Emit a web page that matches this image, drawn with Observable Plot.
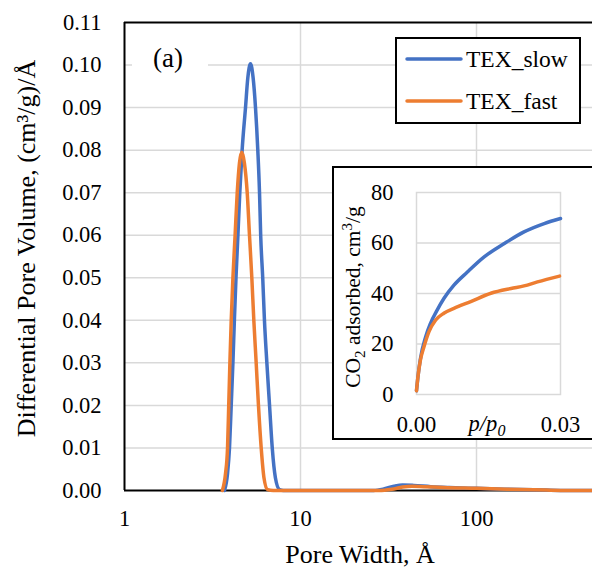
<!DOCTYPE html>
<html>
<head>
<meta charset="utf-8">
<script src="https://cdn.jsdelivr.net/npm/d3@7"></script>
<script src="https://cdn.jsdelivr.net/npm/@observablehq/plot@0.6"></script>
<style>
  html, body { margin: 0; padding: 0; background: #fff; }
  body { width: 592px; height: 570px; overflow: hidden; position: relative;
         font-family: "Liberation Serif", "Times New Roman", serif; }
  #main { position: absolute; left: 0; top: 0; }
  #inset { position: absolute; left: 332px; top: 166px; width: 320px; height: 274px;
           box-sizing: border-box; border: 2px solid #000; background: #fff; }
  #inset svg { position: absolute; left: 0; top: 0; }
  svg text { font-family: "Liberation Serif", "Times New Roman", serif; }
</style>
</head>
<body>
<div id="main"></div>
<div id="inset"></div>
<script>
// Series
const seriesNames = ["TEX_slow", "TEX_fast"];
const seriesColors = ["#4472C4", "#ED7D31"];

// Pore size distribution: pore width (Å) and differential pore volume ((cm3/g)/Å)
const slowWidth = [3.70, 3.85, 3.95, 4.04, 4.13, 4.21, 4.30, 4.41, 4.52, 4.66, 4.87, 5.02, 5.20, 5.38, 5.55, 5.72, 5.85, 5.94, 6.10, 6.24, 6.44, 6.67, 6.91, 7.20, 7.60, 8.00, 12, 20, 26, 30, 34, 38, 44, 55, 70, 100, 150, 250, 400, 1000];
const slowVolume = [0, 0.004, 0.010, 0.020, 0.030, 0.040, 0.050, 0.060, 0.070, 0.080, 0.090, 0.097, 0.1003, 0.097, 0.090, 0.080, 0.070, 0.060, 0.050, 0.040, 0.030, 0.020, 0.010, 0.003, 0.0002, 0, 0, 0, 0, 0.0004, 0.0010, 0.0013, 0.0012, 0.0009, 0.0007, 0.0005, 0.0003, 0.0001, 0, 0];
const fastWidth = [3.60, 3.75, 3.85, 3.91, 3.97, 4.04, 4.13, 4.25, 4.37, 4.50, 4.64, 4.80, 4.98, 5.13, 5.29, 5.43, 5.60, 5.77, 5.98, 6.20, 6.50, 7.00, 12, 20, 28, 33, 38, 43, 50, 65, 100, 150, 250, 400, 1000];
const fastVolume = [0, 0.004, 0.010, 0.020, 0.030, 0.040, 0.050, 0.060, 0.070, 0.077, 0.0795, 0.077, 0.070, 0.060, 0.050, 0.040, 0.030, 0.020, 0.010, 0.003, 0.0002, 0, 0, 0, 0, 0.0003, 0.0008, 0.0010, 0.0009, 0.0007, 0.0005, 0.0003, 0.0001, 0, 0];

// CO2 adsorption isotherm (inset): relative pressure p/p0 and uptake (cm3/g)
const slowP = [0, 0.0003, 0.0008, 0.0019, 0.0029, 0.0043, 0.0057, 0.0078, 0.0106, 0.0141, 0.0183, 0.0224, 0.0266, 0.0300];
const slowAds = [1.5, 7, 14, 22.8, 28.1, 33.4, 38, 43.3, 48.5, 54.5, 59.8, 64.4, 67.7, 69.7];
const fastP = [0, 0.0003, 0.0008, 0.0015, 0.0026, 0.0040, 0.0057, 0.0078, 0.0113, 0.0155, 0.0197, 0.0224, 0.0252, 0.0298];
const fastAds = [1.5, 7, 13.5, 18.5, 24.9, 29.5, 32.2, 34.1, 36.8, 40.1, 42, 43, 44.6, 46.9];

// Ticks
const xTicks = [1, 10, 100];
const xGrid = [10, 100, 1000];
const yTicks = [0, 0.01, 0.02, 0.03, 0.04, 0.05, 0.06, 0.07, 0.08, 0.09, 0.10, 0.11];
const insetXTicks = [0, 0.03];
const insetYTicks = [0, 20, 40, 60, 80];

const psd = [
  ...slowWidth.map((w, i) => ({series: seriesNames[0], w, v: slowVolume[i]})),
  ...fastWidth.map((w, i) => ({series: seriesNames[1], w, v: fastVolume[i]}))
];
const iso = [
  ...slowP.map((p, i) => ({series: seriesNames[0], p, a: slowAds[i]})),
  ...fastP.map((p, i) => ({series: seriesNames[1], p, a: fastAds[i]}))
];

const grid = "#d9d9d9";
const font = '"Liberation Serif", "Times New Roman", serif';

// Main chart
const main = Plot.plot({
  width: 652, height: 570,
  marginLeft: 124, marginRight: 0, marginTop: 22, marginBottom: 80,
  style: {fontFamily: font, fontSize: "22.5px", color: "#000", background: "transparent", maxWidth: "none", overflow: "visible"},
  x: {type: "log", domain: [1, 1000]},
  y: {domain: [0, 0.11]},
  color: {domain: seriesNames, range: seriesColors},
  marks: [
    Plot.gridY(yTicks.filter(t => t > 0 && t < 0.11), {stroke: grid, strokeOpacity: 1, strokeWidth: 1.5}),
    Plot.gridX(xGrid, {stroke: grid, strokeOpacity: 1, strokeWidth: 1.5}),
    Plot.axisX(xTicks, {tickSize: 0, tickPadding: 20, tickFormat: d => String(d), label: null, fontSize: 22.5, fontFamily: font}),
    Plot.axisY(yTicks, {tickSize: 0, tickPadding: 23, tickFormat: d => d.toFixed(2), label: null, fontSize: 22.5, fontFamily: font}),
    Plot.ruleY([0], {stroke: "#000", strokeWidth: 2}),
    Plot.ruleY([0.11], {stroke: "#000", strokeWidth: 2}),
    Plot.ruleX([1], {stroke: "#000", strokeWidth: 2}),
    Plot.line(psd, {x: "w", y: "v", stroke: "series", z: "series", strokeWidth: 3.5, curve: "monotone-x"})
  ]
});
main.style.maxWidth = "none";
document.getElementById("main").appendChild(main);

const ms = d3.select(main);
// axis titles
ms.append("text")
  .attr("transform", "translate(35,248.5) rotate(-90)")
  .attr("text-anchor", "middle")
  .attr("font-size", 26).attr("fill", "#000")
  .text("Differential Pore Volume, (cm³/g)/Å");
ms.append("text")
  .attr("x", 360).attr("y", 563)
  .attr("text-anchor", "middle")
  .attr("font-size", 26).attr("fill", "#000")
  .text("Pore Width, Å");

// panel tag
ms.append("rect").attr("x", 132).attr("y", 42).attr("width", 76).attr("height", 40).attr("fill", "#fff");
ms.append("text")
  .attr("x", 168).attr("y", 67)
  .attr("text-anchor", "middle")
  .attr("font-size", 27).attr("fill", "#000")
  .text("(a)");

// legend
const lg = ms.append("g");
lg.append("rect").attr("x", 396).attr("y", 38).attr("width", 184).attr("height", 85)
  .attr("fill", "#fff").attr("stroke", "#000").attr("stroke-width", 2);
seriesNames.forEach((name, i) => {
  const cy = 59 + i * 42;
  lg.append("line").attr("x1", 407).attr("x2", 461).attr("y1", cy).attr("y2", cy)
    .attr("stroke", seriesColors[i]).attr("stroke-width", 3.5).attr("stroke-linecap", "round");
  lg.append("text").attr("x", 466).attr("y", cy + 8)
    .attr("text-anchor", "start")
    .attr("font-size", 23.5).attr("fill", "#000")
    .text(name);
});

// Inset: CO2 isotherm
const inset = Plot.plot({
  width: 316, height: 270,
  marginLeft: 82, marginRight: 90, marginTop: 24, marginBottom: 44,
  style: {fontFamily: font, fontSize: "22.5px", color: "#000", background: "transparent", maxWidth: "none", overflow: "visible"},
  x: {domain: [0, 0.03]},
  y: {domain: [0, 80]},
  color: {domain: seriesNames, range: seriesColors},
  marks: [
    Plot.gridY([20, 40, 60], {stroke: grid, strokeOpacity: 1, strokeWidth: 1.5}),
    Plot.frame({stroke: grid, strokeWidth: 1.5}),
    Plot.axisX(insetXTicks, {tickSize: 0, tickPadding: 22, tickFormat: d => d.toFixed(2), label: null, fontSize: 22.5, fontFamily: font}),
    Plot.axisY(insetYTicks, {tickSize: 0, tickPadding: 23, tickFormat: d => String(d), label: null, fontSize: 22.5, fontFamily: font}),
    Plot.line(iso, {x: "p", y: "a", stroke: "series", z: "series", strokeWidth: 3.5, curve: "monotone-x"})
  ]
});
inset.style.maxWidth = "none";
document.getElementById("inset").appendChild(inset);

const is = d3.select(inset);
const yl = is.append("text")
  .attr("transform", "translate(26,129) rotate(-90)")
  .attr("text-anchor", "middle")
  .attr("font-size", 21.5).attr("fill", "#000");
yl.append("tspan").text("CO");
yl.append("tspan").attr("font-size", 15).attr("dy", 5).text("2");
yl.append("tspan").attr("dy", -5).text(" adsorbed, cm");
yl.append("tspan").attr("font-size", 15).attr("dy", -8).text("3");
yl.append("tspan").attr("dy", 8).text("/g");

const xl = is.append("text")
  .attr("x", 153).attr("y", 263)
  .attr("text-anchor", "middle")
  .attr("font-size", 22.5).attr("font-style", "italic").attr("fill", "#000");
xl.append("tspan").text("p/p");
xl.append("tspan").attr("font-size", 16).attr("dy", 5).text("0");
</script>
</body>
</html>
